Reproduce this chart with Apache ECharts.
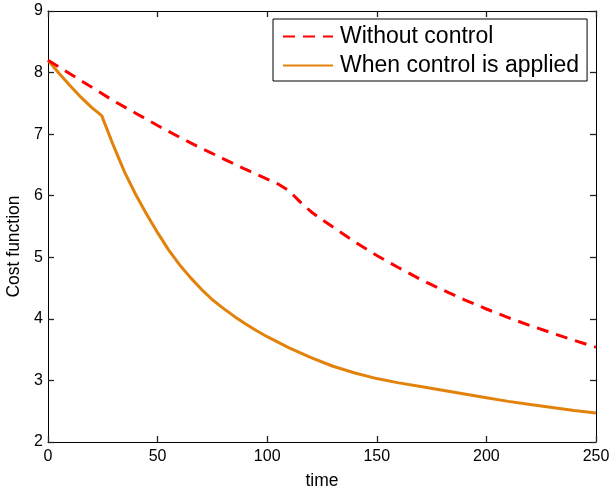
<!DOCTYPE html>
<html>
<head>
<meta charset="utf-8">
<script src="https://cdn.jsdelivr.net/npm/echarts@6/dist/echarts.min.js"></script>
<style>html,body{margin:0;padding:0;background:#fff;}#c{width:610px;height:493px;}</style>
</head>
<body>
<div id="c"></div>
<script>
const timeRed = [0,10,20,30,40,50,60,70,80,90,100,105,110,115,120,125,130,140,150,160,170,180,190,200,210,220,230,240,250];
const costRed = [8.2,7.98,7.76,7.54,7.34,7.14,6.95,6.77,6.6,6.43,6.27,6.19,6.08,5.9,5.74,5.61,5.49,5.25,5.03,4.83,4.64,4.47,4.31,4.16,4.02,3.89,3.77,3.65,3.54];
const timeOrange = [0,5,10,15,20,24.5,30,35,40,45,50,55,60,65,70,75,80,85,90,95,100,110,120,130,140,150,160,170,180,190,200,210,220,230,240,250];
const costOrange = [8.2,7.99,7.79,7.6,7.43,7.3,6.8,6.38,6.02,5.7,5.4,5.12,4.88,4.67,4.48,4.31,4.17,4.04,3.92,3.81,3.71,3.53,3.37,3.23,3.12,3.03,2.96,2.9,2.84,2.78,2.72,2.66,2.61,2.56,2.51,2.47];
const seriesNames = ['Without control', 'When control is applied'];
const xTicks = {min: 0, max: 250, interval: 50};
const yTicks = {min: 2, max: 9, interval: 1};

const pairs = (xs, ys) => xs.map((x, i) => [x, ys[i]]);
const font = 'Liberation Sans, Arial, Helvetica, sans-serif';
function makeAxis(extra) {
  return Object.assign({
    type: 'value',
    axisLine: {show: true, onZero: false, lineStyle: {color: '#000', width: 1}},
    axisTick: {show: true, inside: true, length: 6, lineStyle: {color: '#222', width: 1.3}},
    splitLine: {show: false}
  }, extra);
}
const chart = echarts.init(document.getElementById('c'), null, {renderer: 'canvas'});
chart.setOption({
  animation: false,
  backgroundColor: '#fff',
  textStyle: {fontFamily: font},
  grid: {left: 48, right: 14, top: 11, bottom: 51, containLabel: false, outerBoundsMode: 'none'},
  legend: {
    orient: 'vertical', left: 273, top: 19,
    padding: [6, 8, 4, 9], itemGap: 6,
    itemWidth: 50, itemHeight: 14,
    borderColor: '#000', borderWidth: 1, backgroundColor: '#fff',
    itemStyle: {opacity: 0},
    textStyle: {fontFamily: font, fontSize: 23, color: '#000', padding: [0,0,0,2]},
    data: seriesNames
  },
  xAxis: [
    makeAxis({min: xTicks.min, max: xTicks.max, interval: xTicks.interval, position: 'bottom',
      name: 'time', nameLocation: 'middle', nameGap: 30,
      nameTextStyle: {fontFamily: font, fontSize: 17.5, color: '#000'},
      axisLabel: {fontFamily: font, fontSize: 16, color: '#000', margin: 7}}),
    makeAxis({min: xTicks.min, max: xTicks.max, interval: xTicks.interval, position: 'top',
      axisLabel: {show: false}})
  ],
  yAxis: [
    makeAxis({min: yTicks.min, max: yTicks.max, interval: yTicks.interval, position: 'left',
      name: 'Cost function', nameLocation: 'middle', nameGap: 24,
      nameTextStyle: {fontFamily: font, fontSize: 17.5, color: '#000', padding: [0, 40, 0, 0]},
      axisLabel: {fontFamily: font, fontSize: 16, color: '#000', margin: 5}}),
    makeAxis({min: yTicks.min, max: yTicks.max, interval: yTicks.interval, position: 'right',
      axisLabel: {show: false}})
  ],
  series: [
    {name: seriesNames[0], type: 'line', data: pairs(timeRed, costRed), smooth: false, showSymbol: false, symbol: 'none',
      lineStyle: {color: '#ff0000', width: 3, type: [12, 8]}, itemStyle: {color: '#ff0000'}, z: 3},
    {name: seriesNames[1], type: 'line', data: pairs(timeOrange, costOrange), smooth: false, showSymbol: false, symbol: 'none',
      lineStyle: {color: '#e3820a', width: 3}, itemStyle: {color: '#e3820a'}, z: 2}
  ]
});
</script>
</body>
</html>
